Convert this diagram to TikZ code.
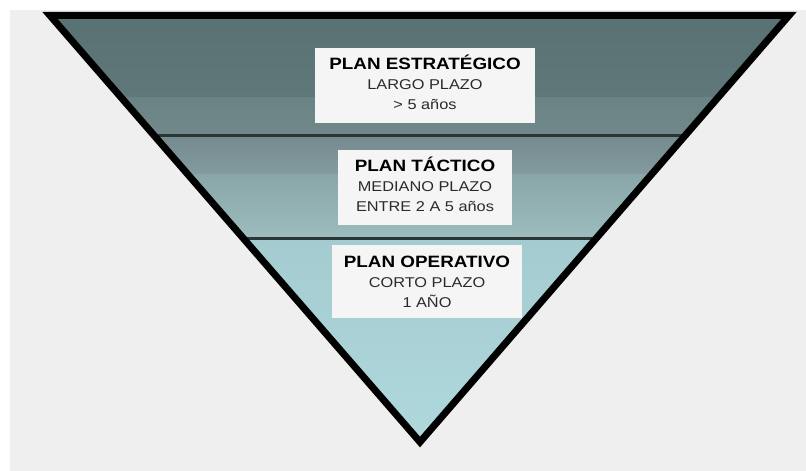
\documentclass[tikz,border=0pt]{standalone}
\usepackage{fontspec}
\usepackage{tkz-euclide}
\usetikzlibrary{calc}
\newfontfamily\planfont[FakeStretch=1.15]{Liberation Sans}
\definecolor{bggray}{HTML}{EFEFEF}
\definecolor{boxwhite}{HTML}{F5F5F5}
\definecolor{textgray}{HTML}{2A2A2A}
\definecolor{rulegray}{HTML}{2A3535}
\tikzset{planbox/.style={fill=boxwhite, inner sep=0pt, align=center,
    font=\planfont\fontsize{14.2}{20}\selectfont, text=textgray}}
\newcommand{\plantitle}[1]{{\fontsize{16.4}{20}\selectfont\bfseries\color{black}#1}}

\begin{document}
\begin{tikzpicture}[x=1pt,y=1pt]
\useasboundingbox (0,0) rectangle (806,471);
\fill[white] (0,0) rectangle (806,471);
\fill[bggray] (10,0) rectangle (806,461);
\tkzDefPoints{50/455.5/A, 789/455.5/B, 420/29/C}
\coordinate (D) at ($(A)!0.2825!(C)$);
\coordinate (E) at ($(B)!0.2825!(C)+(4,0)$);
\coordinate (F) at ($(A)!0.5217!(C)$);
\coordinate (G) at ($(B)!0.5217!(C)$);
% degradado por bandas
\begin{scope}
\tkzClipPolygon(A,B,C)
\shade[top color={rgb,255:red,88;green,113;blue,114}, bottom color={rgb,255:red,96;green,120;blue,121}] (0,457) rectangle (806,373);
\shade[top color={rgb,255:red,106;green,131;blue,133}, bottom color={rgb,255:red,114;green,137;blue,139}] (0,373) rectangle (806,335);
\shade[top color={rgb,255:red,116;green,138;blue,142}, bottom color={rgb,255:red,132;green,155;blue,159}] (0,335) rectangle (806,296);
\shade[top color={rgb,255:red,138;green,166;blue,168}, bottom color={rgb,255:red,156;green,188;blue,189}] (0,296) rectangle (806,233);
\shade[top color={rgb,255:red,164;green,204;blue,208}, bottom color={rgb,255:red,176;green,217;blue,221}] (0,233) rectangle (806,20);
\end{scope}
\draw[rulegray, line width=3pt] (D) -- (E) (F) -- (G);
\tkzDrawPolygon[line width=7pt, black, line join=miter](A,B,C)
\node[planbox, minimum width=220pt, minimum height=75pt] (estrategico) at (425,385.5)
  {\plantitle{PLAN ESTRATÉGICO}\\LARGO PLAZO\\> 5 años\\[-14pt]};
\node[planbox, minimum width=174pt, minimum height=75pt] (tactico) at (425,283.5)
  {\plantitle{PLAN TÁCTICO}\\MEDIANO PLAZO\\ENTRE 2 A 5 años\\[-13pt]};
\node[planbox, minimum width=190pt, minimum height=73pt] (operativo) at (427,189.5)
  {\plantitle{PLAN OPERATIVO}\\CORTO PLAZO\\1 AÑO};
\end{tikzpicture}
\end{document}
